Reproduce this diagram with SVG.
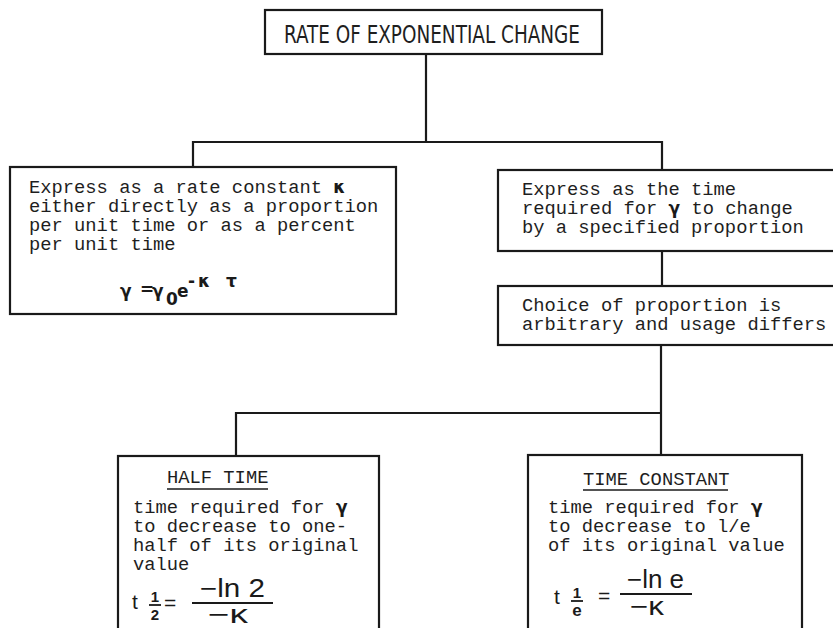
<svg xmlns="http://www.w3.org/2000/svg" width="833" height="628" viewBox="0 0 833 628">
<style>
.box{fill:none;stroke:#1a1a1a;stroke-width:2.2}
.ln{fill:none;stroke:#1a1a1a;stroke-width:2.2}
.t{font-family:"Liberation Mono","DejaVu Sans Mono",monospace;font-size:18.8px;fill:#1e1e1e}
.g{font-family:"DejaVu Sans",sans-serif;font-weight:bold;font-size:17px;fill:#1a1a1a}
.ttl{font-family:"DejaVu Sans Condensed","Liberation Sans Narrow",sans-serif;font-size:24px;fill:#1e1e1e}
.f{font-family:"Liberation Sans","Arial",sans-serif;fill:#1a1a1a}
</style>
<rect width="833" height="628" fill="#ffffff"/>
<g id="connectors">
<path class="ln" d="M426 54 V142"/>
<path class="ln" d="M193 167 V142 H662 V170"/>
<path class="ln" d="M662 251 V286"/>
<path class="ln" d="M661 345 V456"/>
<path class="ln" d="M236 456 V413 H661"/>
</g>
<g id="title">
<rect class="box" x="265" y="10" width="337" height="44"/>
<text class="ttl" x="284" y="43" textLength="296" lengthAdjust="spacingAndGlyphs">RATE OF EXPONENTIAL CHANGE</text>
</g>
<g id="rate-constant">
<rect class="box" x="10" y="167" width="386" height="147"/>
<text class="t" x="29" y="193">Express as a rate constant <tspan class="g">κ</tspan></text>
<text class="t" x="29" y="212">either directly as a proportion</text>
<text class="t" x="29" y="231">per unit time or as a percent</text>
<text class="t" x="29" y="250">per unit time</text>
<text class="g" x="120" y="297" font-size="24">γ</text>
<text class="g" x="140" y="295" font-size="15">=</text>
<text class="g" x="152" y="297" font-size="24">γ</text>
<text class="g" x="166" y="305" font-size="17">0</text>
<text class="g" x="177" y="297" font-size="20">e</text>
<text class="g" x="188" y="287" font-size="18">-</text>
<text class="g" x="198" y="287" font-size="22">κ</text>
<text class="g" x="226" y="287" font-size="21">τ</text>
</g>
<g id="time-required">
<rect class="box" x="498" y="170" width="342" height="81"/>
<text class="t" x="522" y="195">Express as the time</text>
<text class="t" x="522" y="214">required for <tspan class="g">γ</tspan> to change</text>
<text class="t" x="522" y="233">by a specified proportion</text>
</g>
<g id="choice">
<rect class="box" x="498" y="286" width="342" height="59"/>
<text class="t" x="522" y="311">Choice of proportion is</text>
<text class="t" x="522" y="330">arbitrary and usage differs</text>
</g>
<g id="half-time">
<rect class="box" x="118" y="456" width="261" height="180"/>
<text class="t" x="167" y="483">HALF TIME</text>
<line x1="167" y1="489" x2="268" y2="489" stroke="#1a1a1a" stroke-width="1.6"/>
<text class="t" x="133" y="513">time required for <tspan class="g">γ</tspan></text>
<text class="t" x="133" y="532">to decrease to one-</text>
<text class="t" x="133" y="551">half of its original</text>
<text class="t" x="133" y="570">value</text>
<text class="f" x="132" y="609" font-size="21">t</text>
<text class="f" x="155" y="602" font-size="15" font-weight="bold" text-anchor="middle">1</text>
<line x1="149" y1="605" x2="161" y2="605" stroke="#1a1a1a" stroke-width="1.8"/>
<text class="f" x="155" y="620" font-size="15" font-weight="bold" text-anchor="middle">2</text>
<text class="f" x="164" y="610" font-size="21">=</text>
<text class="f" x="200" y="597" font-size="25" textLength="65" lengthAdjust="spacingAndGlyphs">−ln 2</text>
<line x1="192" y1="603" x2="273" y2="603" stroke="#1a1a1a" stroke-width="2.2"/>
<text class="f" x="208" y="623" font-size="25" textLength="40" lengthAdjust="spacingAndGlyphs">−κ</text>
</g>
<g id="time-constant">
<rect class="box" x="528" y="455" width="274" height="180"/>
<text class="t" x="583" y="485">TIME CONSTANT</text>
<line x1="583" y1="490" x2="728" y2="490" stroke="#1a1a1a" stroke-width="1.6"/>
<text class="t" x="548" y="513">time required for <tspan class="g">γ</tspan></text>
<text class="t" x="548" y="532">to decrease to l/e</text>
<text class="t" x="548" y="551">of its original value</text>
<text class="f" x="554" y="604" font-size="21">t</text>
<text class="f" x="577" y="598" font-size="15" font-weight="bold" text-anchor="middle">1</text>
<line x1="571" y1="601" x2="583" y2="601" stroke="#1a1a1a" stroke-width="1.8"/>
<text class="f" x="577" y="616" font-size="17" font-weight="bold" text-anchor="middle">e</text>
<text class="f" x="598" y="603" font-size="21">=</text>
<text class="f" x="627" y="588" font-size="25" textLength="57" lengthAdjust="spacingAndGlyphs">−ln e</text>
<line x1="620" y1="594" x2="692" y2="594" stroke="#1a1a1a" stroke-width="2.2"/>
<text class="f" x="630" y="615" font-size="25" textLength="34" lengthAdjust="spacingAndGlyphs">−κ</text>
</g>
</svg>
